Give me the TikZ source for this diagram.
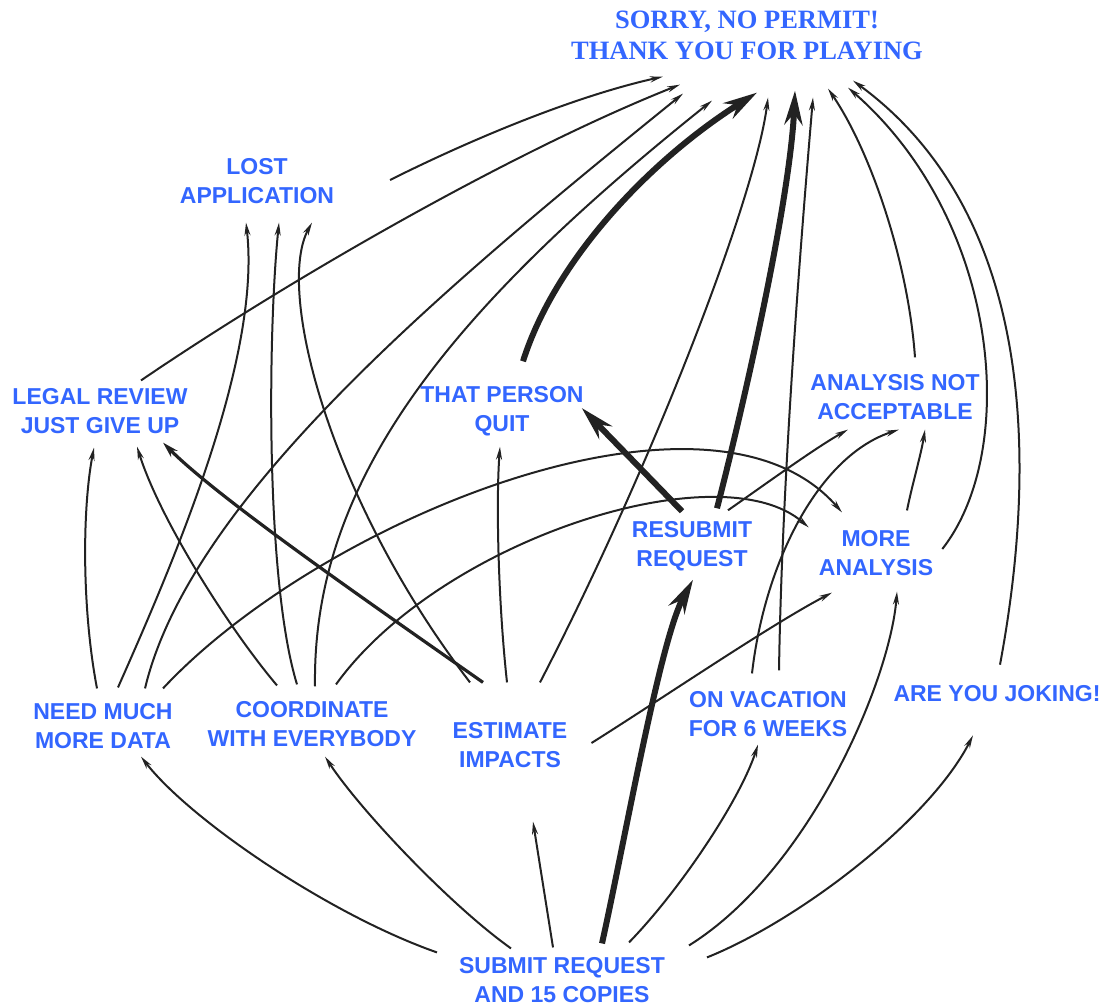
\documentclass[tikz,border=0pt]{standalone}
\usepackage{fontspec}
\usetikzlibrary{arrows.meta}
\newfontfamily\lblfont{Liberation Sans}
\newfontfamily\ttlfont{Liberation Serif}
\definecolor{permit}{RGB}{51,102,255}
\definecolor{ink}{RGB}{34,34,34}

\begin{document}
\begin{tikzpicture}[x=1pt,y=-1pt,
  lbl/.style={font=\lblfont\bfseries\fontsize{23}{28.5}\selectfont,text=permit,align=center,fill=white,inner sep=3pt},
  ttl/.style={font=\ttlfont\bfseries\fontsize{26.5}{31}\selectfont,text=permit,align=center,fill=white,inner sep=3pt},
  link/.style={draw=ink,line width=2pt,-{Stealth[length=13pt,width=6pt]}},
  medium/.style={draw=ink,line width=3.2pt,-{Stealth[length=16pt,width=9pt]}},
  heavy/.style={draw=ink,line width=6pt,-{Stealth[length=34pt,width=18pt]}}]
\useasboundingbox (0,0) rectangle (1108,1005);
\node[ttl] (sorry) at (747,35) {SORRY, NO PERMIT!\\THANK YOU FOR PLAYING};
\node[lbl] (lost) at (257,181) {LOST\\APPLICATION};
\node[lbl] (legal) at (100,411) {LEGAL REVIEW\\JUST GIVE UP};
\node[lbl] (quit) at (502,411) {THAT PERSON\\QUIT};
\node[lbl] (anal) at (895,397) {ANALYSIS NOT\\ACCEPTABLE};
\node[lbl] (resub) at (692,546) {RESUBMIT\\REQUEST};
\node[lbl] (more) at (876,553) {MORE\\ANALYSIS};
\node[lbl] (need) at (103,726) {NEED MUCH\\MORE DATA};
\node[lbl] (coord) at (312,724) {COORDINATE\\WITH EVERYBODY};
\node[lbl] (est) at (510,745) {ESTIMATE\\IMPACTS};
\node[lbl] (vac) at (768,714) {ON VACATION\\FOR 6 WEEKS};
\node[lbl] (joke) at (997,694) {ARE YOU JOKING!};
\node[lbl] (submit) at (562,980) {SUBMIT REQUEST\\AND 15 COPIES};
\coordinate (drift) at (390,180);

\draw[link] (drift) .. controls (480,135) and (580,95) .. ([shift={(-84,14)}]sorry.south);
\draw[link] ([shift={(41,-5)}]legal.north) .. controls (290,279) and (513,151) .. ([shift={(-67,22)}]sorry.south);
\draw[link] ([shift={(42,-12)}]need.north) .. controls (190,500) and (440,290) .. ([shift={(-64,31)}]sorry.south);
\draw[link] ([shift={(3,-12)}]coord.north) .. controls (312,480) and (450,310) .. ([shift={(-35,38)}]sorry.south);
\draw[heavy] ([shift={(21,-22)}]quit.north) .. controls (555,260) and (650,160) .. ([shift={(10,30)}]sorry.south);
\draw[link] ([shift={(30,-37)}]est.north) .. controls (650,470) and (755,200) .. ([shift={(21,35)}]sorry.south);
\draw[heavy] ([shift={(25,-10)}]resub.north) .. controls (745,400) and (790,200) .. ([shift={(48,28)}]sorry.south);
\draw[link] ([shift={(11,-18)}]vac.north) .. controls (782,480) and (800,250) .. ([shift={(66,35)}]sorry.south);
\draw[link] ([shift={(20,-14)}]anal.north) .. controls (908,260) and (870,150) .. ([shift={(81,26)}]sorry.south);
\draw[link] ([shift={(6,-4)}]more.east) .. controls (1020,450) and (1000,220) .. ([shift={(101,25)}]sorry.south);
\draw[link] ([shift={(3,-18)}]joke.north) .. controls (1040,450) and (1030,210) .. ([shift={(106,18)}]sorry.south);

\draw[link] ([shift={(15,-13)}]need.north) .. controls (170,570) and (262,360) .. ([shift={(-11,16)}]lost.south);
\draw[link] ([shift={(-15,-14)}]coord.north) .. controls (265,580) and (268,330) .. ([shift={(22,16)}]lost.south);
\draw[link] ([shift={(-40,-37)}]est.north) .. controls (330,500) and (275,290) .. ([shift={(55,16)}]lost.south);

\draw[link] ([shift={(-6,-12)}]need.north) .. controls (82,610) and (82,510) .. ([shift={(-6,11)}]legal.south);
\draw[link] ([shift={(-35,-13)}]coord.north) .. controls (230,630) and (160,520) .. ([shift={(37,10)}]legal.south);
\draw[medium] ([shift={(-27,-37)}]est.north) .. controls (380,610) and (220,500) .. ([shift={(63,6)}]legal.south);

\draw[link] ([shift={(-3,-37)}]est.north) .. controls (498,600) and (496,500) .. ([shift={(-2,8)}]quit.south);
\draw[heavy] ([shift={(-10,-7)}]resub.north) -- ([shift={(-5,-3)}]quit.east);

\draw[link] ([shift={(36,-8)}]resub.north) .. controls (760,488) and (815,448) .. ([shift={(-47,7)}]anal.south);
\draw[link] ([shift={(-16,-15)}]vac.north) .. controls (765,560) and (820,455) .. ([shift={(4,7)}]anal.south);
\draw[link] ([shift={(31,-17)}]more.north) .. controls (912,485) and (921,455) .. ([shift={(30,7)}]anal.south);

\draw[link] ([shift={(60,-12)}]need.north) .. controls (320,520) and (710,360) .. ([shift={(-34,-15)}]more.north);
\draw[link] ([shift={(24,-14)}]coord.north) .. controls (440,540) and (720,450) .. ([shift={(-7,0)}]more.north west);
\draw[link] ([shift={(21,-2)}]est.east) .. controls (660,700) and (770,625) .. ([shift={(-44,14)}]more.south);

\draw[link] ([shift={(127,-9)}]submit.north) .. controls (810,870) and (890,680) .. ([shift={(21,13)}]more.south);
\draw[heavy] ([shift={(40,-11)}]submit.north) .. controls (625,840) and (660,640) .. ([shift={(1,6)}]resub.south);
\draw[link] ([shift={(67,-12)}]submit.north) .. controls (680,890) and (740,800) .. ([shift={(-10,5)}]vac.south);
\draw[link] ([shift={(145,3)}]submit.north) .. controls (800,920) and (930,820) .. ([shift={(-24,30)}]joke.south);
\draw[link] ([shift={(-125,-2)}]submit.north) .. controls (330,915) and (190,820) .. ([shift={(38,5)}]need.south);
\draw[link] ([shift={(-51,-6)}]submit.north) .. controls (450,905) and (360,810) .. ([shift={(13,7)}]coord.south);
\draw[link] ([shift={(-9,-7)}]submit.north) -- ([shift={(23,51)}]est.south);
\end{tikzpicture}
\end{document}
